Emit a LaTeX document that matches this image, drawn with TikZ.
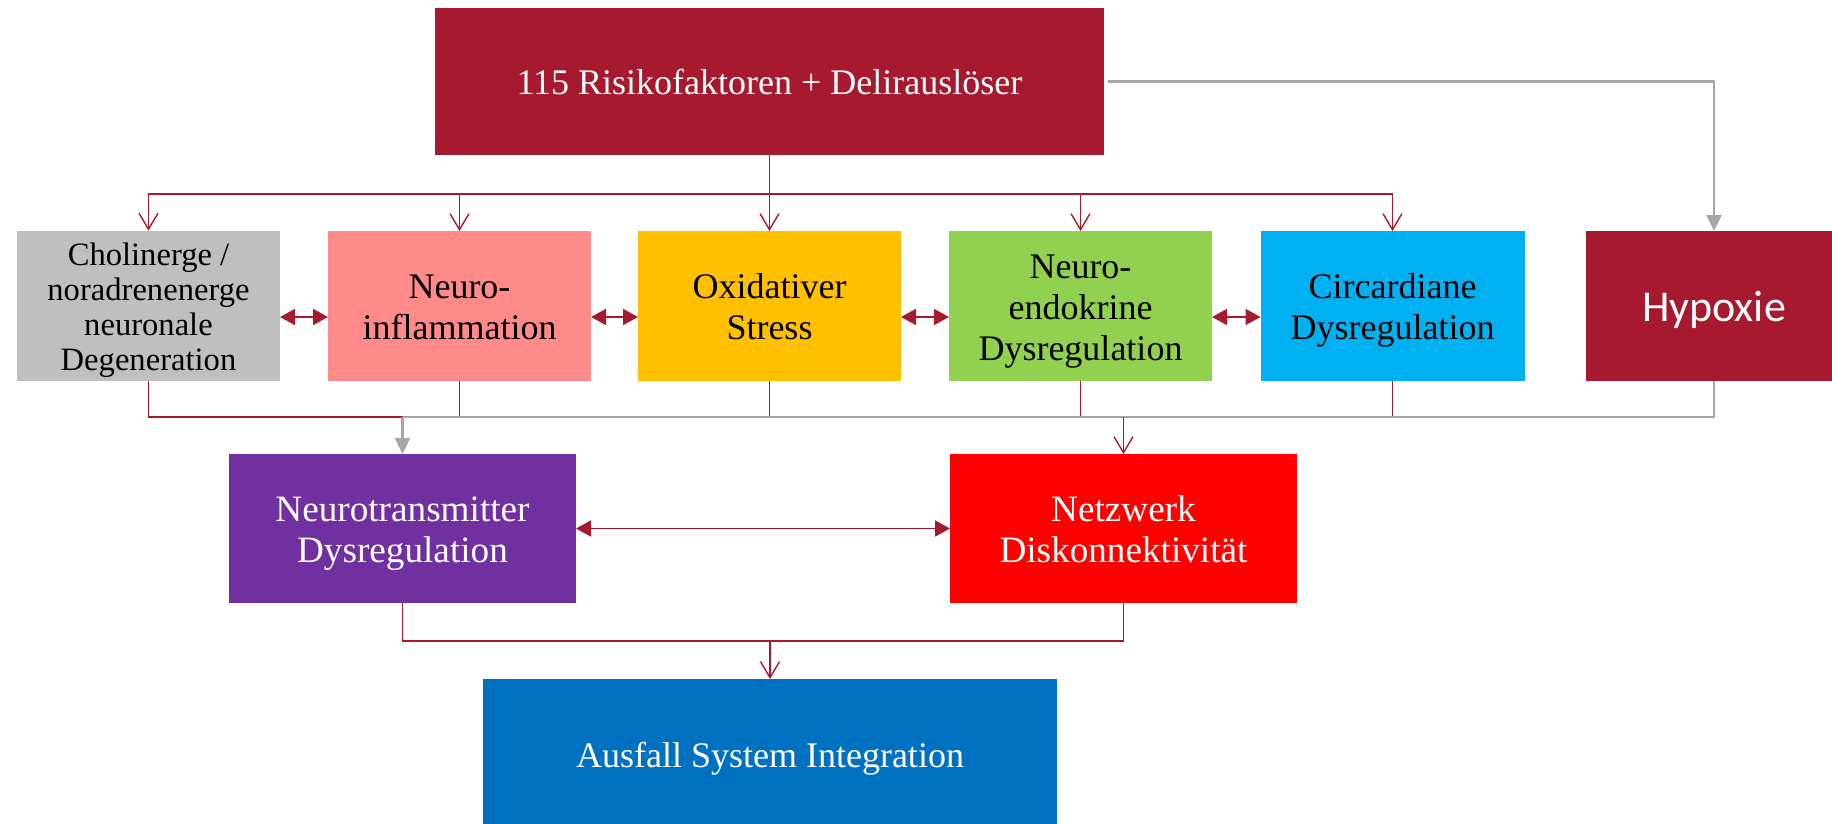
\documentclass[tikz,border=0pt]{standalone}
\usepackage{fontspec}
\setmainfont{Liberation Serif}
\newfontfamily\hypfont{Carlito}
\usetikzlibrary{arrows.meta}

\definecolor{cDark}{HTML}{A6192E}
\definecolor{cGrayBox}{HTML}{BFBFBF}
\definecolor{cPink}{HTML}{FF8A8A}
\definecolor{cYellow}{HTML}{FFC000}
\definecolor{cGreen}{HTML}{92D050}
\definecolor{cCyan}{HTML}{00B0F0}
\definecolor{cPurple}{HTML}{7030A0}
\definecolor{cRed}{HTML}{FF0000}
\definecolor{cBlue}{HTML}{0070C0}
\definecolor{cLine}{HTML}{A6A6A6}

% centred lines with uniform line boxes; extra reported height sets the text a little lower
\newcommand\boxlines[1]{\raisebox{0pt}[\dimexpr\height+5pt\relax][\depth]{%
  \begin{tabular}{@{}c@{}}%
  \rule{0pt}{\dimexpr0.7\baselineskip+0.33em\relax}#1\end{tabular}}}

\tikzset{
  box/.style={rectangle, inner sep=0pt, outer sep=0pt,
    font=\fontsize{18}{20.5}\selectfont},
  rowbox/.style={box, minimum width=131.5pt, minimum height=75pt},
  midbox/.style={box, minimum width=173.5pt, minimum height=74.5pt, text=white,
    font=\fontsize{18.6}{20.4}\selectfont},
  redline/.style={draw=cDark, line width=0.7pt},
  redarrow/.style={redline, -{Straight Barb[length=8pt,width=9.5pt]}},
  grayline/.style={draw=cLine, line width=1.2pt},
  grayarrow/.style={grayline, -{Triangle[length=8pt,width=7.5pt]}},
  twoway/.style={draw=cDark, line width=0.9pt,
    {Triangle[length=7.5pt,width=8pt]}-{Triangle[length=7.5pt,width=8pt]}}
}

\begin{document}
\begin{tikzpicture}[x=0.5pt,y=-0.5pt]
\path[use as bounding box, clip] (0,0) rectangle (1832,824);

% source box
\node[box, fill=cDark, text=white, minimum width=334.5pt, minimum height=73.5pt]
  (top) at (769.5,81.5) {\boxlines{115 Risikofaktoren + Delirauslöser}};

% first row of mechanisms
\node[rowbox, fill=cGrayBox, font=\fontsize{16.3}{17.6}\selectfont]
  (chol) at (148.5,306) {\boxlines{Cholinerge /\\noradrenenerge\\neuronale\\Degeneration}};
\node[rowbox, fill=cPink] (infl) at (459.5,306) {\boxlines{Neuro-\\inflammation}};
\node[rowbox, fill=cYellow] (oxi) at (769.5,306) {\boxlines{Oxidativer\\Stress}};
\node[rowbox, fill=cGreen] (endo) at (1080.5,306) {\boxlines{Neuro-\\endokrine\\Dysregulation}};
\node[rowbox, fill=cCyan, minimum width=132pt] (circ) at (1392.5,306) {\boxlines{Circardiane\\Dysregulation}};
\node[box, fill=cDark, text=white, minimum width=128pt, minimum height=75pt,
  font=\hypfont\fontsize{22}{26}\selectfont] (hyp) at (1714,306) {\boxlines{Hypoxie}};

% second row
\node[midbox, fill=cPurple] (ntm) at (402.5,528.5) {\boxlines{Neurotransmitter\\Dysregulation}};
\node[midbox, fill=cRed] (netz) at (1123.5,528.5) {\boxlines{Netzwerk\\Diskonnektivität}};

% outcome
\node[box, fill=cBlue, text=white, minimum width=287pt, minimum height=75pt]
  (fail) at (770,754) {\boxlines{Ausfall System Integration}};

% bus levels
\coordinate (busA) at (0,194);
\coordinate (busB) at (0,417);
\coordinate (busC) at (0,641);

% source to first row
\draw[redline] (top.south) -- (top.south |- busA);
\foreach \n in {chol,infl,oxi,endo,circ}
  \draw[redarrow] (top.south |- busA) -| (\n.north);
\draw[grayarrow] ([xshift=2pt]top.east) -| (hyp.north);

% first row interactions
\draw[twoway] ([yshift=-5.5pt]chol.east) -- ([yshift=-5.5pt]infl.west);
\draw[twoway] ([yshift=-5.5pt]infl.east) -- ([yshift=-5.5pt]oxi.west);
\draw[twoway] ([yshift=-5.5pt]oxi.east) -- ([yshift=-5.5pt]endo.west);
\draw[twoway] ([yshift=-5.5pt]endo.east) -- ([yshift=-5.5pt]circ.west);

% first row to second row
\draw[redline] (chol.south) |- (ntm.north |- busB);
\foreach \n in {infl,oxi,endo,circ}
  \draw[redline] (\n.south) -- (\n.south |- busB);
\draw[grayline] (hyp.south) |- (ntm.north |- busB);
\draw[grayarrow] (ntm.north |- busB) -- (ntm.north);
\draw[redarrow] (netz.north |- busB) -- (netz.north);

% second row interaction
\draw[twoway] (ntm.east) -- (netz.west);

% second row to outcome
\draw[redline] (ntm.south) -- (ntm.south |- busC) -- (netz.south |- busC) -- (netz.south);
\draw[redarrow] (fail.north |- busC) -- (fail.north);
\end{tikzpicture}
\end{document}
